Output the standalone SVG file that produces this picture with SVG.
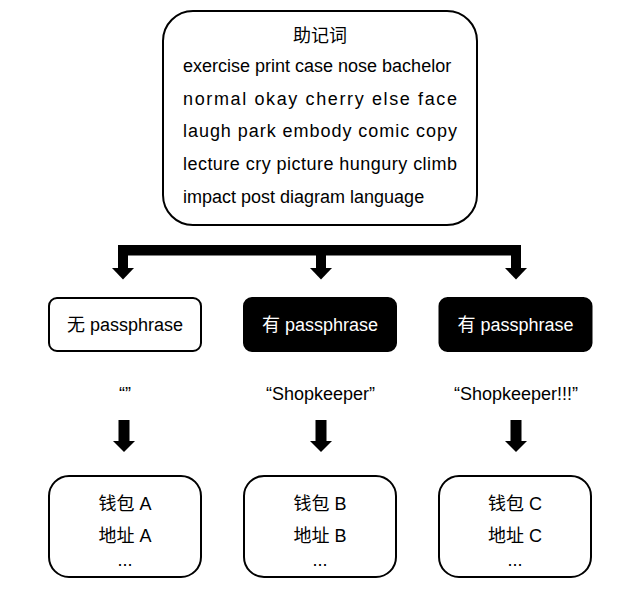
<svg xmlns="http://www.w3.org/2000/svg" width="638" height="600" viewBox="0 0 638 600">
<style>
  text { font-family: "Liberation Sans", "Noto Sans CJK SC", Arial, sans-serif; font-size: 18px; fill: #000; }
  .box { fill: #fff; stroke: #000; stroke-width: 2; }
  .dark { fill: #000; stroke: #000; stroke-width: 2; }
  .mid { text-anchor: middle; }
  .white { fill: #fff; }
  .conn { fill: #000; stroke: none; }
</style>
<rect x="0" y="0" width="638" height="600" fill="#fff"/>

<g id="mnemonic">
  <rect class="box" x="163" y="11" width="314" height="214" rx="30" ry="30"/>
  <text class="mid" x="320" y="42">助记词</text>
  <text x="183" y="72">exercise print case nose bachelor</text>
  <text x="183" y="104.5" textLength="274" lengthAdjust="spacing">normal okay cherry else face</text>
  <text x="183" y="137" textLength="274" lengthAdjust="spacing">laugh park embody comic copy</text>
  <text x="183" y="170" textLength="274" lengthAdjust="spacing">lecture cry picture hungury climb</text>
  <text x="183" y="202.5">impact post diagram language</text>
</g>

<g id="connectors">
  <rect class="conn" x="118" y="245" width="403" height="10.5"/>
  <rect class="conn" x="118" y="245" width="10" height="24"/>
  <polygon class="conn" points="112,268 134,268 123,279.5"/>
  <rect class="conn" x="316" y="250" width="10" height="19"/>
  <polygon class="conn" points="310,268 332,268 321,279.5"/>
  <rect class="conn" x="511" y="245" width="10" height="24"/>
  <polygon class="conn" points="505,268 527,268 516,279.5"/>

  <rect class="conn" x="118.5" y="420" width="11" height="22"/>
  <polygon class="conn" points="113,441 135,441 124,452"/>
  <rect class="conn" x="315.5" y="420" width="11" height="22"/>
  <polygon class="conn" points="310,441 332,441 321,452"/>
  <rect class="conn" x="510.5" y="420" width="11" height="22"/>
  <polygon class="conn" points="505,441 527,441 516,452"/>
</g>

<g id="no-pass">
  <rect class="box" x="49" y="298" width="152" height="53" rx="8" ry="8"/>
  <text class="mid" x="125" y="330.5">无 passphrase</text>
</g>
<g id="pass-b">
  <rect class="dark" x="244" y="298" width="152" height="53" rx="8" ry="8"/>
  <text class="mid white" x="320" y="330.5">有 passphrase</text>
</g>
<g id="pass-c">
  <rect class="dark" x="439.5" y="298" width="152" height="53" rx="8" ry="8"/>
  <text class="mid white" x="515.5" y="330.5">有 passphrase</text>
</g>

<g id="phrase-a"><text class="mid" x="125" y="400">“”</text></g>
<g id="phrase-b"><text class="mid" x="320.5" y="400">“Shopkeeper”</text></g>
<g id="phrase-c"><text class="mid" x="516" y="400">“Shopkeeper!!!”</text></g>

<g id="wallet-a">
  <rect class="box" x="49" y="476" width="152" height="101" rx="20" ry="20"/>
  <text class="mid" x="125" y="510">钱包 A</text>
  <text class="mid" x="125" y="542">地址 A</text>
  <text class="mid" x="125" y="566">...</text>
</g>
<g id="wallet-b">
  <rect class="box" x="244" y="476" width="152" height="101" rx="20" ry="20"/>
  <text class="mid" x="320" y="510">钱包 B</text>
  <text class="mid" x="320" y="542">地址 B</text>
  <text class="mid" x="320" y="566">...</text>
</g>
<g id="wallet-c">
  <rect class="box" x="439" y="476" width="152" height="101" rx="20" ry="20"/>
  <text class="mid" x="515" y="510">钱包 C</text>
  <text class="mid" x="515" y="542">地址 C</text>
  <text class="mid" x="515" y="566">...</text>
</g>
</svg>
